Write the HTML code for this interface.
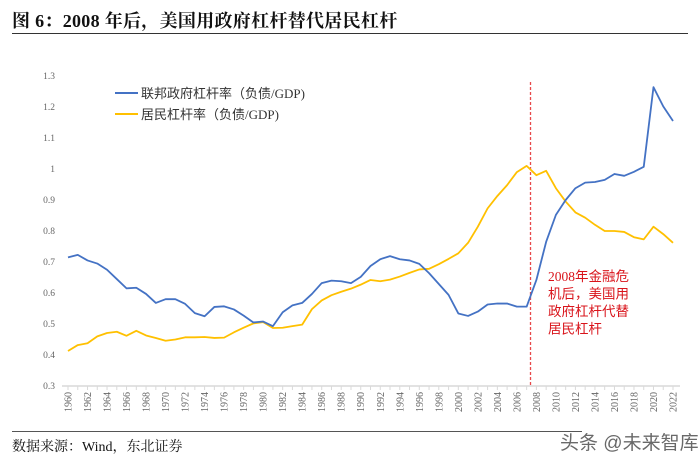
<!DOCTYPE html>
<html><head><meta charset="utf-8">
<style>
body{margin:0;background:#fff;width:700px;height:463px;overflow:hidden;position:relative;font-family:"Liberation Serif","Noto Serif CJK SC",serif}
#title{position:absolute;left:12px;top:7px;font-size:18px;font-weight:bold;color:#111;letter-spacing:0.3px}
#rule1{position:absolute;left:12px;top:33px;width:676px;height:1px;background:#333}
#rule2{position:absolute;left:12px;top:431px;width:570px;height:1px;background:#555}
#source{position:absolute;left:12px;top:436px;font-size:14px;color:#111}
#wm{position:absolute;left:560px;top:428px;font-size:19px;color:#444;font-family:"Liberation Sans","Noto Sans CJK SC",sans-serif;opacity:.8}
svg{position:absolute;left:0;top:0}
</style></head><body>
<div id="title">图 6：2008 年后，美国用政府杠杆替代居民杠杆</div>
<div id="rule1"></div>
<svg id="chart" width="700" height="463"></svg>
<div id="rule2"></div>
<div id="source">数据来源：Wind，东北证券</div>
<div id="wm">头条 @未来智库</div>
<script>
const years=[];for(let y=1960;y<=2022;y++)years.push(y);
const govLeverage=[.715,.723,.705,.695,.675,.645,.615,.617,.597,.568,.58,.58,.565,.535,.525,.555,.557,.547,.527,.505,.508,.493,.538,.56,.568,.597,.632,.64,.638,.632,.652,.687,.709,.719,.709,.705,.694,.664,.629,.594,.534,.526,.54,.563,.566,.566,.556,.556,.642,.765,.852,.9,.938,.956,.958,.965,.984,.978,.991,1.007,1.264,1.202,1.155];
const hhLeverage=[.413,.432,.438,.46,.471,.475,.462,.478,.463,.455,.446,.45,.457,.457,.458,.455,.456,.473,.488,.502,.506,.487,.488,.493,.498,.548,.576,.593,.604,.614,.627,.642,.638,.643,.653,.665,.676,.678,.693,.71,.728,.762,.814,.873,.913,.948,.99,1.01,.98,.994,.938,.895,.86,.843,.82,.8,.8,.797,.78,.773,.814,.79,.762];
const yTicks=[0.3,0.4,0.5,0.6,0.7,0.8,0.9,1,1.1,1.2,1.3];
const eventYear=2007.5;
const NS="http://www.w3.org/2000/svg";
const svg=document.getElementById('chart');
const X=y=>68+(y-1960)*(605/62);
const Y=v=>386-(v-0.3)*310;
function mk(t,a){const e=document.createElementNS(NS,t);for(const k in a)e.setAttribute(k,a[k]);svg.appendChild(e);return e;}
let ax=mk('line',{x1:62,x2:680,y1:386,y2:386,stroke:'#d9d9d9','stroke-width':1.5});


yTicks.forEach(v=>{const t=mk('text',{x:55,y:Y(v)+3,'text-anchor':'end','font-size':9.5,fill:'#666'});t.textContent=(v===1?'1':v.toFixed(1));

});
years.forEach(yr=>{
 const tk=mk('line',{x1:X(yr),x2:X(yr),y1:386,y2:390,stroke:'#d9d9d9'});
 
 
 if((yr-1960)%2===0){const x=X(yr)+3.5;const t=mk('text',{x:x,y:392,'text-anchor':'end','font-size':10,fill:'#666',transform:`rotate(-90 ${x} 392)`});t.textContent=yr;
 
 }
});
const ev=mk('line',{x1:X(eventYear)-1,x2:X(eventYear)-1,y1:82,y2:386,stroke:'#e8484a','stroke-width':1.3,'stroke-dasharray':'3,2'});


function series(vals,color,name){const p=mk('polyline',{points:vals.map((v,i)=>X(years[i])+','+Y(v)).join(' '),fill:'none',stroke:color,'stroke-width':1.8,'stroke-linejoin':'round'});

}
series(hhLeverage,'#ffc000','household-leverage-line');
series(govLeverage,'#4472c4','federal-leverage-line');
const lg=[['#4472c4','联邦政府杠杆率（负债/GDP)',93],['#ffc000','居民杠杆率（负债/GDP)',114]];
lg.forEach((d,i)=>{const l=mk('line',{x1:115,x2:138,y1:d[2],y2:d[2],stroke:d[0],'stroke-width':2});


const t=mk('text',{x:141,y:d[2]+5,'font-size':13,fill:'#333','font-family':'"Liberation Serif","Noto Sans CJK SC",serif'});t.textContent=d[1];

});
['2008年金融危','机后，美国用','政府杠杆代替','居民杠杆'].forEach((s,i)=>{const t=mk('text',{x:548,y:281+i*17.5,'font-size':13.5,fill:'#d9141b','font-family':'"Liberation Serif","Noto Sans CJK SC",serif'});t.textContent=s;

});
</script>
</body></html>
